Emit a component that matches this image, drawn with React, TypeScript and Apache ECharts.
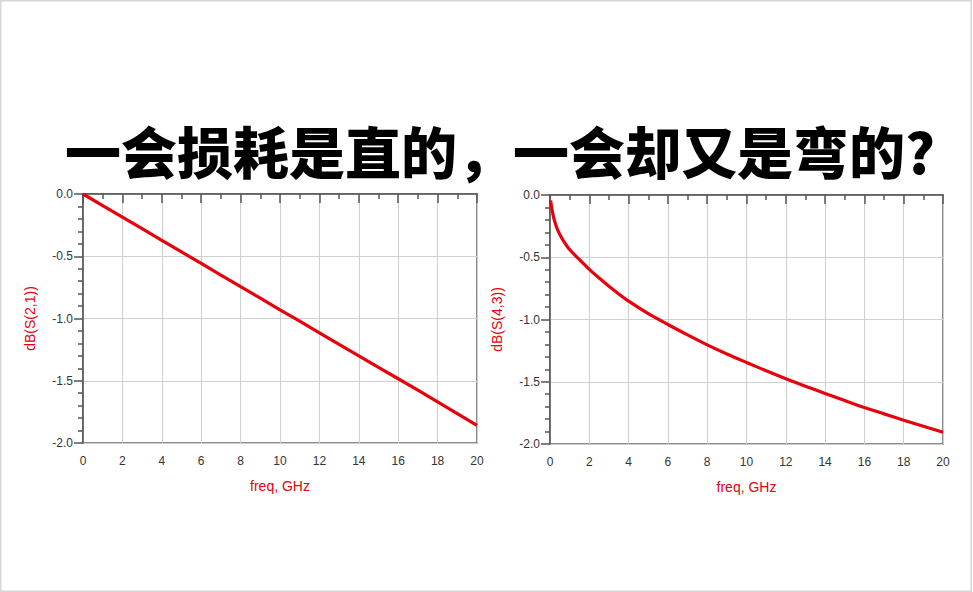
import * as echarts from "echarts";
import { useEffect, useRef } from "react";

const TITLE = "一会损耗是直的，一会却又是弯的?";

// left plot: dB(S(2,1)) vs freq (GHz)
const freqLeft = [0, 1, 2, 3, 4, 5, 6, 7, 8, 9, 10, 11, 12, 13, 14, 15, 16, 17, 18, 19, 20];
const s21 = [
	0, -0.093, -0.186, -0.279, -0.372, -0.465, -0.558, -0.651, -0.744, -0.837, -0.93,
	-1.022, -1.115, -1.208, -1.3, -1.392, -1.484, -1.576, -1.67, -1.764, -1.858,
];

// right plot: dB(S(4,3)) vs freq (GHz)
const freqRight = [
	0.03, 0.06, 0.1, 0.17, 0.25, 0.35, 0.5, 0.7, 1, 1.5, 2, 2.5, 3, 3.5, 4, 5, 6, 7, 8, 9, 10,
	11, 12, 13, 14, 15, 16, 17, 18, 19, 20,
];
const s43 = [
	-0.045, -0.075, -0.115, -0.17, -0.218, -0.265, -0.318, -0.372, -0.438, -0.52, -0.597, -0.667,
	-0.733, -0.795, -0.853, -0.953, -1.04, -1.124, -1.204, -1.277, -1.345, -1.412, -1.476, -1.536,
	-1.594, -1.651, -1.707, -1.758, -1.809, -1.857, -1.905,
];

const xTicks = [0, 2, 4, 6, 8, 10, 12, 14, 16, 18, 20];
const yTicks = ["0.0", "-0.5", "-1.0", "-1.5", "-2.0"];

const RED = "#e8000c";
const FONT = "'Liberation Sans', Arial, sans-serif";

function xAxis(gridIndex: number) {
	return {
		gridIndex,
		type: "value",
		min: xTicks[0],
		max: xTicks[xTicks.length - 1],
		interval: 2,
		name: "freq, GHz",
		nameLocation: "middle",
		nameGap: 36,
		nameTextStyle: { color: RED, fontSize: 14, fontFamily: FONT },
		axisLine: { show: true, lineStyle: { color: "#555", width: 1.5 } },
		axisTick: { show: true, inside: false, length: 9, lineStyle: { color: "#555", width: 1.5 } },
		minorTick: { show: true, splitNumber: 2, length: 5, lineStyle: { color: "#555", width: 1.5 } },
		axisLabel: { color: "#333", fontSize: 12, fontFamily: FONT, margin: 12 },
		splitLine: { show: true, lineStyle: { color: "#cfcfcf", width: 1 } },
	};
}

function yAxis(gridIndex: number, name: string) {
	return {
		gridIndex,
		type: "value",
		min: -2,
		max: 0,
		interval: 0.5,
		name,
		nameLocation: "middle",
		nameGap: 46,
		nameTextStyle: { color: RED, fontSize: 14, fontFamily: FONT },
		axisLine: { show: true, lineStyle: { color: "#555", width: 1.5 } },
		axisTick: { show: true, inside: false, length: 9, lineStyle: { color: "#555", width: 1.5 } },
		minorTick: { show: true, splitNumber: 5, length: 5, lineStyle: { color: "#555", width: 1.5 } },
		axisLabel: {
			color: "#333",
			fontSize: 12,
			fontFamily: FONT,
			margin: 10,
			formatter: (v: number) => yTicks[Math.round(-v / 0.5)] ?? v.toFixed(1),
		},
		splitLine: { show: true, lineStyle: { color: "#cfcfcf", width: 1 } },
	};
}

export default function App() {
	const ref = useRef<HTMLDivElement>(null);
	useEffect(() => {
		if (!ref.current) return;
		document.body.style.margin = "0";
		const chart = echarts.init(ref.current, undefined, { renderer: "svg" });
		chart.setOption({
			animation: false,
			backgroundColor: "#ffffff",
			graphic: [
				{
					type: "rect",
					shape: { x: 0.75, y: 0.75, width: 970.5, height: 590.5 },
					style: { fill: "none", stroke: "#d6d6d6", lineWidth: 1.5 },
					silent: true,
				},
				{
					type: "text",
					x: 500,
					y: 149,
					style: {
						text: TITLE,
						fill: "#000",
						fontSize: 56,
						lineHeight: 50,
						fontWeight: 900,
						fontFamily: "'Noto Sans CJK SC', sans-serif",
						align: "center",
						verticalAlign: "middle",
					},
				},
			],
			grid: [
				{ left: 83, top: 194, width: 394, height: 249, show: true, borderColor: "#666", borderWidth: 1.5 },
				{ left: 550, top: 195, width: 393, height: 249, show: true, borderColor: "#666", borderWidth: 1.5 },
			],
			xAxis: [xAxis(0), xAxis(1)],
			yAxis: [yAxis(0, "dB(S(2,1))"), yAxis(1, "dB(S(4,3))")],
			series: [
				{
					type: "line",
					xAxisIndex: 0,
					yAxisIndex: 0,
					data: freqLeft.map((f, i) => [f, s21[i]]),
					showSymbol: false,
					lineStyle: { color: RED, width: 3.2 },
				},
				{
					type: "line",
					xAxisIndex: 1,
					yAxisIndex: 1,
					data: freqRight.map((f, i) => [f, s43[i]]),
					showSymbol: false,
					smooth: 0.25,
					lineStyle: { color: RED, width: 3.2 },
				},
			],
		});
		return () => chart.dispose();
	}, []);
	return <div ref={ref} style={{ position: "absolute", left: 0, top: 0, width: 973, height: 592 }} />;
}
